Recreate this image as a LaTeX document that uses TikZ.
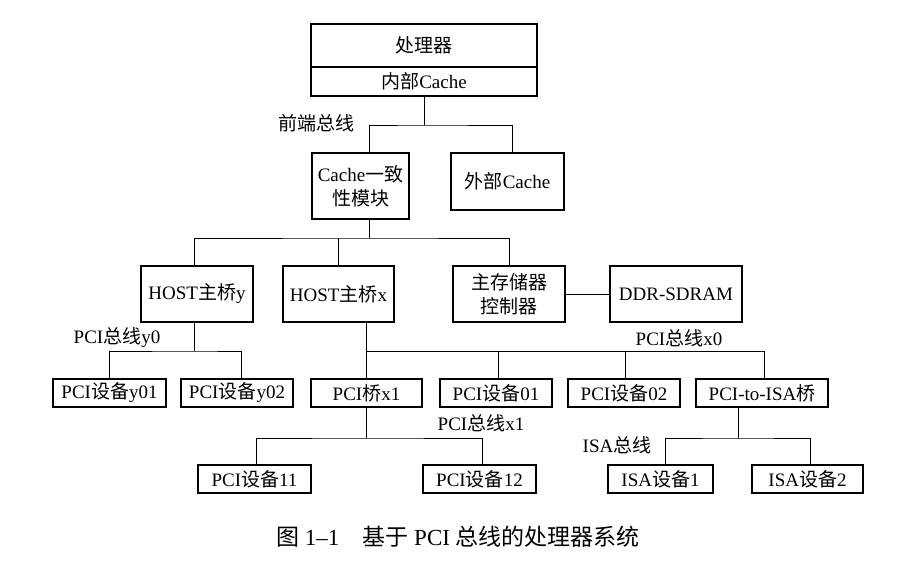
\documentclass[tikz,border=0pt]{standalone}
\usepackage{fontspec}
\setmainfont{Liberation Serif}
\newfontfamily\cjk{Noto Sans CJK SC}
\newcommand{\zh}[1]{{\cjk #1}}
\begin{document}
\begin{tikzpicture}[x=1pt, y=-1pt,
    box/.style={draw, line width=1.6pt, inner sep=0pt, align=center, font=\fontsize{19}{24}\selectfont},
    bus/.style={line width=1pt},
    tag/.style={inner sep=0pt, font=\fontsize{19}{24}\selectfont}]
    \useasboundingbox (0,0) rectangle (897,571);
    % Nodes
    \node[box, minimum width=226, minimum height=43] (cpu) at (424,45.5) {\zh{处理器}};
    \node[box, minimum width=226, minimum height=29] (icache) at (424,81.5) {\zh{内部}Cache};
    \node[box, minimum width=97, minimum height=66] (coh) at (360.5,186) {Cache\zh{一致}\\\zh{性模块}};
    \node[box, minimum width=113, minimum height=57] (ecache) at (507.5,181.5) {\zh{外部}Cache};
    \node[box, minimum width=112, minimum height=56] (hosty) at (197,294) {HOST\zh{主桥}y};
    \node[box, minimum width=111, minimum height=56] (hostx) at (338.5,294) {HOST\zh{主桥}x};
    \node[box, minimum width=112, minimum height=56] (mem) at (509,294) {\zh{主存储器}\\\zh{控制器}};
    \node[box, minimum width=132, minimum height=56] (ddr) at (676,294) {DDR-SDRAM};
    \node[box, minimum width=113, minimum height=28] (y01) at (109.5,393) {PCI\zh{设备}y01};
    \node[box, minimum width=112, minimum height=28] (y02) at (237,393) {PCI\zh{设备}y02};
    \node[box, minimum width=111, minimum height=28] (bx1) at (366.5,393) {PCI\zh{桥}x1};
    \node[box, minimum width=112, minimum height=28] (d01) at (496,393) {PCI\zh{设备}01};
    \node[box, minimum width=112, minimum height=28] (d02) at (624,393) {PCI\zh{设备}02};
    \node[box, minimum width=132, minimum height=28] (isab) at (762,393) {PCI-to-ISA\zh{桥}};
    \node[box, minimum width=113, minimum height=28] (d11) at (254.5,479) {PCI\zh{设备}11};
    \node[box, minimum width=113, minimum height=28] (d12) at (479.5,479) {PCI\zh{设备}12};
    \node[box, minimum width=105, minimum height=28] (isa1) at (660.5,479) {ISA\zh{设备}1};
    \node[box, minimum width=111, minimum height=28] (isa2) at (807.5,479) {ISA\zh{设备}2};
    % Bus labels
    \node[tag] (fsbtag) at (316,123) {\zh{前端总线}};
    \node[tag] (y0tag) at (117,338) {PCI\zh{总线}y0};
    \node[tag] (x0tag) at (679,338) {PCI\zh{总线}x0};
    \node[tag] (x1tag) at (481,423) {PCI\zh{总线}x1};
    \node[tag] (isatag) at (617,445) {ISA\zh{总线}};
    % Buses
    \coordinate (fsb) at (424,125);
    \draw[bus] (icache.south) -- (fsb);
    \draw[bus] ([xshift=8.5]coh.north) |- (fsb) -| ([xshift=4.5]ecache.north);
    \coordinate (sysbus) at (369,238);
    \draw[bus] ([xshift=8.5]coh.south) -- (sysbus);
    \draw[bus] ([xshift=-3]hosty.north) |- (sysbus) -| (mem.north);
    \draw[bus] (hostx.north) -- (hostx.north |- sysbus);
    \draw[bus] (mem) -- (ddr);
    \coordinate (pciy0) at (194,351);
    \draw[bus] ([xshift=-3]hosty.south) -- (pciy0);
    \draw[bus] (y01.north) |- (pciy0) -| ([xshift=4]y02.north);
    \coordinate (pcix0) at (366.5,351);
    \draw[bus] (bx1.north |- hostx.south) -- (bx1.north);
    \draw[bus] (pcix0) -| ([xshift=2]d01.north);
    \draw[bus] (pcix0) -| ([xshift=1]d02.north);
    \draw[bus] (pcix0) -| ([xshift=2]isab.north);
    \coordinate (pcix1) at (366.5,438);
    \draw[bus] (bx1.south) -- (pcix1);
    \draw[bus] ([xshift=1.5]d11.north) |- (pcix1) -| ([xshift=2.5]d12.north);
    \coordinate (isabus) at (738,438);
    \draw[bus] (isab.south -| isabus) -- (isabus);
    \draw[bus] ([xshift=4.5]isa1.north) |- (isabus) -| ([xshift=2.5]isa2.north);
    % Caption
    \node[font=\fontsize{23}{26}\selectfont] (caption) at (458,537) {\zh{图} 1\textendash1\quad\zh{基于} PCI \zh{总线的处理器系统}};
\end{tikzpicture}
\end{document}
